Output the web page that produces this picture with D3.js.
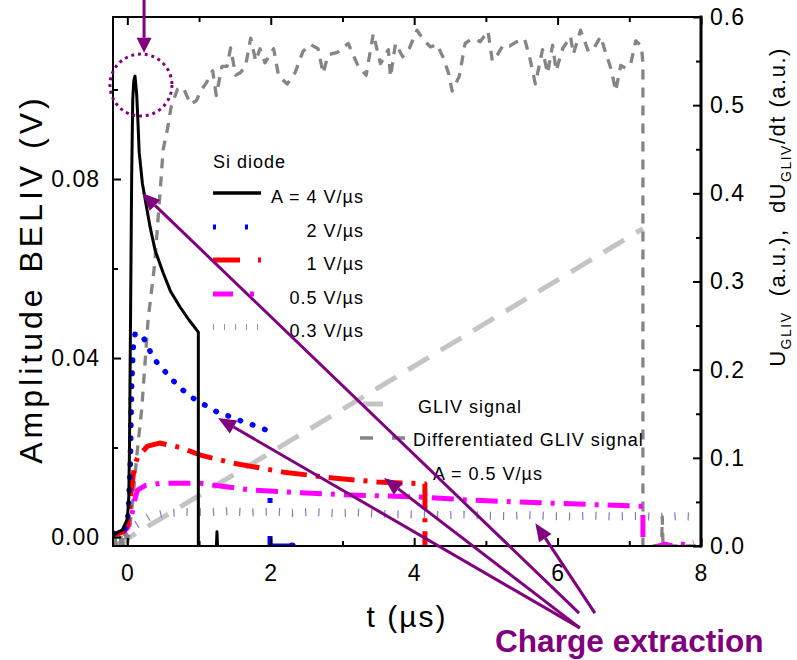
<!DOCTYPE html>
<html><head><meta charset="utf-8">
<script src="https://cdn.jsdelivr.net/npm/d3@7"></script>
<style>
html,body{margin:0;padding:0;background:#fff;}
svg{display:block;font-family:"Liberation Sans",Arial,Helvetica,sans-serif;}
</style></head><body>
<svg id="chart" width="797" height="660"></svg>
<script>
// ---------- tick values ----------
const tickT = [0, 2, 4, 6, 8];
const minorT = [1, 3, 5, 7];
const tickAmp = [0, 0.04, 0.08];
const minorAmp = [0.02, 0.06, 0.10];
const tickU = [0, 0.1, 0.2, 0.3, 0.4, 0.5, 0.6];
const minorU = [0.05, 0.15, 0.25, 0.35, 0.45, 0.55];

// ---------- BELIV transients, [t (µs), amplitude (V)] ----------
const beliv4 = [[-0.2,0.0004],[-0.07,0.0016],[0.0,0.004],[0.02,0.009],[0.03,0.02],[0.04,0.04],[0.05,0.06],
  [0.06,0.08],[0.075,0.0977],[0.09,0.102],[0.107,0.103],[0.13,0.099],[0.15,0.092],[0.165,0.086],[0.21,0.079],
  [0.275,0.0731],[0.317,0.0693],[0.387,0.0641],[0.5,0.059],[0.6,0.055],[0.735,0.0514],[0.86,0.0485],
  [0.99,0.0458],[0.99,-0.003],[1.24,-0.003],[1.25,0.0012],[1.26,-0.003],[1.5,-0.003]];
const beliv2 = [[-0.2,0.0008],[-0.05,0.0015],[0.0,0.003],[0.02,0.008],[0.04,0.0155],[0.05,0.025],[0.06,0.034],
  [0.08,0.042],[0.11,0.0456],[0.22,0.0447],[0.37,0.0398],[0.53,0.0369],[0.71,0.0337],[0.89,0.0313],[1.08,0.0295],
  [1.28,0.0277],[1.46,0.0268],[1.62,0.0257],[1.8,0.0248],[1.97,0.0237]];
const beliv2Tail = [[1.99,0.0087],[1.99,0.0002],[1.99,-0.002],[2.3,-0.002]];
const beliv1 = [[-0.2,0.0005],[-0.05,0.0012],[0.0,0.0025],[0.03,0.006],[0.05,0.0098],[0.1,0.016],[0.15,0.018],
  [0.28,0.0203],[0.45,0.021],[0.74,0.020],[1.02,0.0183],[1.48,0.0165],[2.18,0.0145],[2.87,0.0132],[3.49,0.0123],
  [3.84,0.0121],[4.15,0.0119],[4.15,-0.003],[4.5,-0.0022]];
const beliv05 = [[-0.2,0.0006],[-0.05,0.0012],[0.0,0.002],[0.05,0.004],[0.1,0.008],[0.14,0.0105],[0.25,0.0115],
  [0.46,0.012],[1.02,0.012],[1.72,0.0105],[2.41,0.0099],[3.11,0.0094],[3.99,0.0090],[4.74,0.0083],[5.66,0.0077],
  [6.6,0.0072],[7.13,0.0069],[7.19,0.0069],[7.19,-0.003],[7.5,-0.0016],[7.6,-0.002],[7.7,-0.0015],[7.8,-0.0018],[7.9,-0.0012]];
const beliv03 = [[-0.2,0.0003],[-0.05,0.0008],[0.05,0.002],[0.15,0.003],[0.3,0.0045],[0.5,0.0053],[0.8,0.0056],
  [1.1,0.0055],[1.4,0.0058],[1.7,0.0055],[2.0,0.0057],[2.3,0.0054],[2.6,0.0056],[2.9,0.0053],[3.2,0.0055],
  [3.5,0.0052],[3.8,0.0051],[4.1,0.0050],[4.4,0.0049],[4.7,0.0050],[5.0,0.0048],[5.3,0.0047],[5.6,0.0049],
  [5.9,0.0047],[6.2,0.0046],[6.5,0.0048],[6.8,0.0046],[7.1,0.0047],[7.4,0.0045],[7.7,0.0047],[8.0,0.0045]];

// ---------- GLIV signals, [t (µs), a.u.] ----------
const glivSignal = [[-0.17,0.0],[7.19,0.36]];
const glivDiff = [[-0.2,0],[-0.18,0.015],[-0.155,0],[-0.13,0.015],[-0.105,0],[-0.08,0.015],[-0.055,0],[-0.03,0.015],
  [-0.005,0],[0.02,0.012],[0.07,0.047],[0.14,0.109],[0.20,0.155],[0.24,0.200],[0.29,0.257],[0.38,0.319],
  [0.46,0.405],[0.50,0.450],[0.56,0.473],[0.61,0.498],[0.70,0.518],[0.78,0.520],[0.88,0.501],[0.96,0.505],
  [1.03,0.517],[1.10,0.525],[1.19,0.539],[1.24,0.511],[1.32,0.544],[1.39,0.544],[1.44,0.565],[1.51,0.534],
  [1.58,0.537],[1.65,0.545],[1.72,0.576],[1.79,0.550],[1.85,0.564],[1.92,0.548],[2.04,0.564],[2.11,0.533],
  [2.23,0.524],[2.34,0.537],[2.45,0.561],[2.55,0.569],[2.66,0.564],[2.73,0.536],[2.80,0.557],[2.93,0.560],
  [3.08,0.570],[3.22,0.544],[3.33,0.534],[3.43,0.581],[3.53,0.547],[3.64,0.563],[3.67,0.532],[3.74,0.570],
  [3.84,0.555],[3.93,0.564],[4.04,0.585],[4.13,0.574],[4.23,0.566],[4.32,0.569],[4.41,0.553],[4.48,0.536],
  [4.53,0.516],[4.63,0.533],[4.71,0.570],[4.78,0.574],[4.85,0.575],[4.92,0.572],[5.03,0.584],[5.09,0.550],
  [5.16,0.557],[5.24,0.568],[5.33,0.567],[5.43,0.572],[5.54,0.575],[5.62,0.551],[5.69,0.524],[5.79,0.563],
  [5.86,0.536],[5.93,0.568],[5.98,0.539],[6.07,0.564],[6.18,0.578],[6.22,0.558],[6.32,0.585],[6.43,0.561],
  [6.51,0.565],[6.60,0.578],[6.68,0.557],[6.75,0.540],[6.81,0.516],[6.88,0.545],[6.95,0.542],[7.02,0.547],
  [7.09,0.573],[7.17,0.567],[7.19,0.547],[7.19,0],[7.45,0],[7.46,0.033],[7.47,0],[8.0,0]];

// ---------- legend / annotation text ----------
const legendTitle = "Si diode";
const rateLabels = ["A = 4 V/\u00B5s", "2 V/\u00B5s", "1 V/\u00B5s", "0.5 V/\u00B5s", "0.3 V/\u00B5s"];
const glivLabels = ["GLIV signal", "Differentiated GLIV signal"];
const glivRate = "A = 0.5 V/\u00B5s";
const noteText = "Charge extraction";
// arrow tips sit on the curves, tails converge above the note text  [t, amplitude]
const arrowTips  = [[0.205,0.0769],[1.265,0.0266],[3.58,0.0132],[5.69,0.0031]];
const arrowTails = [[6.30,-0.0170],[6.31,-0.0203],[6.31,-0.0203],[6.52,-0.0170]];
const peakMark = {t:0.19, v:0.101};

// ---------- layout ----------
const L = 113, R = 701, T = 17, B = 546;
const svg = d3.select("#chart");
const x  = d3.scaleLinear().domain([-0.2, 8]).range([L, R]);
const yA = d3.scaleLinear().domain([-0.002, 0.1162]).range([B, T]);
const yU = d3.scaleLinear().domain([0, 0.6]).range([B, T]);
const PURPLE = "#800080";

svg.append("defs").append("clipPath").attr("id","plotClip")
  .append("rect").attr("x", L).attr("y", T).attr("width", R - L).attr("height", B - T);

const plot = svg.append("g").attr("clip-path", "url(#plotClip)");
const lineA = d3.line().x(d => x(d[0])).y(d => yA(d[1]));
const lineU = d3.line().x(d => x(d[0])).y(d => yU(d[1]));

const series = [
  {data: glivSignal, gen: lineU, color: "#c4c4c4", w: 5,   dash: "24,14",      cap: "butt"},
  {data: glivDiff,   gen: lineU, color: "#858585", w: 3.3, dash: "10,8",       cap: "butt"},
  {data: beliv03,    gen: lineA, color: "#7c7cc8", w: 8,   dash: "1.2,12",     cap: "butt"},
  {data: beliv05,    gen: lineA, color: "#ff00ff", w: 5,   dash: "22,9,4,9",   cap: "butt"},
  {data: beliv1,     gen: lineA, color: "#ff0000", w: 5,   dash: "26,9,4,9",   cap: "butt"},
  {data: beliv2,     gen: lineA, color: "#0000ff", w: 5.5, dash: "0.5,12.5",   cap: "round"},
  {data: beliv2Tail, gen: lineA, color: "#0000ff", w: 5,   dash: "5,33,50",    cap: "butt"},
  {data: beliv4,     gen: lineA, color: "#000000", w: 3,   dash: null,         cap: "butt"}
];
series.forEach(s => {
  plot.append("path").attr("d", s.gen(s.data)).attr("fill", "none")
    .attr("stroke", s.color).attr("stroke-width", s.w)
    .attr("stroke-dasharray", s.dash).attr("stroke-linecap", s.cap)
    .attr("stroke-linejoin", "round");
});
// thin stem of the 2 V/µs tail and its end blob
plot.append("path").attr("d", lineA(beliv2Tail.slice(1, 3))).attr("stroke", "#0000ff").attr("stroke-width", 1.5);
plot.append("circle").attr("cx", x(beliv2Tail[3][0])).attr("cy", yA(beliv2Tail[3][1])).attr("r", 3.5).attr("fill", "#0000ff");

// ---------- axes ----------
function styleAxis(g, fs) {
  g.select(".domain").remove();
  g.selectAll("line").attr("stroke", "#000").attr("stroke-width", 2);
  g.selectAll("text").attr("font-size", fs).attr("fill", "#000")
    .attr("font-family", '"Liberation Sans",Arial,sans-serif').attr("letter-spacing", "1px");
  g.attr("font-family", null).attr("font-size", null);
}
styleAxis(svg.append("g").attr("transform", `translate(0,${B})`)
  .call(d3.axisBottom(x).tickValues(tickT).tickSize(-8).tickPadding(19).tickFormat(d3.format("d"))), 23);
styleAxis(svg.append("g").attr("transform", `translate(0,${B})`)
  .call(d3.axisBottom(x).tickValues(minorT).tickSize(-5).tickFormat("")), 23);
styleAxis(svg.append("g").attr("transform", `translate(0,${T})`)
  .call(d3.axisTop(x).tickValues(tickT).tickSize(-8).tickFormat("")), 23);
styleAxis(svg.append("g").attr("transform", `translate(0,${T})`)
  .call(d3.axisTop(x).tickValues(minorT).tickSize(-5).tickFormat("")), 23);
styleAxis(svg.append("g").attr("transform", `translate(${L},0)`)
  .call(d3.axisLeft(yA).tickValues(tickAmp).tickSize(-8).tickPadding(13).tickFormat(d3.format(".2f"))), 23);
styleAxis(svg.append("g").attr("transform", `translate(${L},0)`)
  .call(d3.axisLeft(yA).tickValues(minorAmp).tickSize(-5).tickFormat("")), 23);
styleAxis(svg.append("g").attr("transform", `translate(${R},0)`)
  .call(d3.axisRight(yU).tickValues(tickU).tickSize(-8).tickPadding(9).tickFormat(d3.format(".1f"))), 23);
styleAxis(svg.append("g").attr("transform", `translate(${R},0)`)
  .call(d3.axisRight(yU).tickValues(minorU).tickSize(-5).tickFormat("")), 23);

// frame
const frame = svg.append("g").attr("stroke", "#000").attr("stroke-linecap", "square");
frame.append("line").attr("x1", L).attr("x2", R).attr("y1", T).attr("y2", T).attr("stroke-width", 2);
frame.append("line").attr("x1", L).attr("x2", R).attr("y1", B).attr("y2", B).attr("stroke-width", 2);
frame.append("line").attr("x1", L).attr("x2", L).attr("y1", T).attr("y2", B).attr("stroke-width", 2);
frame.append("line").attr("x1", R).attr("x2", R).attr("y1", T).attr("y2", B).attr("stroke-width", 3);

// axis titles
svg.append("text").attr("transform", `translate(${(L + R) / 2},627)`)
  .attr("text-anchor", "middle").attr("font-size", 30).attr("letter-spacing", "2px")
  .text("t (\u00B5s)");
svg.append("text").attr("transform", "translate(42,279) rotate(-90)")
  .attr("text-anchor", "middle").attr("font-size", 32).attr("letter-spacing", "4px")
  .text("Amplitude BELIV (V)");
const rt = svg.append("text").attr("transform", "translate(785,207) rotate(-90)")
  .attr("text-anchor", "middle").attr("font-size", 22).attr("letter-spacing", "1.5px")
  .style("white-space", "pre");
rt.append("tspan").text("U");
rt.append("tspan").attr("font-size", 14).attr("dy", 6).text("GLIV");
rt.append("tspan").attr("dy", -6).text("  (a.u.),  dU");
rt.append("tspan").attr("font-size", 14).attr("dy", 6).text("GLIV");
rt.append("tspan").attr("dy", -6).text("/dt (a.u.)");

// ---------- legend: Si diode rates ----------
const lg = svg.append("g").attr("font-size", 18).attr("letter-spacing", "1px");
lg.append("text").attr("x", 213).attr("y", 168).text(legendTitle);
const legendRows = [193, 227, 260, 294, 327];
const legendSamples = [
  {color: "#000000", w: 3.5, dash: null},
  {color: "#0000ff", w: 5,   dash: "3,29"},
  {color: "#ff0000", w: 5,   dash: "27,18,3,20"},
  {color: "#ff00ff", w: 5,   dash: "20,17,4,20"},
  {color: "#8f8fd6", w: 6,   dash: "1,10"}
];
rateLabels.forEach((lab, i) => {
  const s = legendSamples[i];
  lg.append("line").attr("x1", 213).attr("x2", 261).attr("y1", legendRows[i]).attr("y2", legendRows[i])
    .attr("stroke", s.color).attr("stroke-width", s.w).attr("stroke-dasharray", s.dash);
  lg.append("text").attr("x", 364).attr("y", legendRows[i] + 10).attr("text-anchor", "end").text(lab);
});

// ---------- legend: GLIV ----------
const lg2 = svg.append("g").attr("font-size", 18).attr("letter-spacing", "1px");
lg2.append("line").attr("x1", 363).attr("x2", 383).attr("y1", 404).attr("y2", 404)
  .attr("stroke", "#c4c4c4").attr("stroke-width", 5);
lg2.append("text").attr("x", 418).attr("y", 413).text(glivLabels[0]);
lg2.append("line").attr("x1", 360).attr("x2", 406).attr("y1", 438).attr("y2", 438)
  .attr("stroke", "#858585").attr("stroke-width", 3.3).attr("stroke-dasharray", "13,19");
lg2.append("text").attr("x", 413).attr("y", 446).text(glivLabels[1]);
lg2.append("text").attr("x", 433).attr("y", 480).text(glivRate);

// ---------- annotations ----------
const ann = svg.append("g");
function arrow(x1, y1, x2, y2, len, half) {
  const dx = x2 - x1, dy = y2 - y1, d = Math.hypot(dx, dy);
  const ux = dx / d, uy = dy / d;
  const bx = x2 - ux * len, by = y2 - uy * len;
  ann.append("line").attr("x1", x1).attr("y1", y1).attr("x2", bx).attr("y2", by)
    .attr("stroke", PURPLE).attr("stroke-width", 3);
  ann.append("polygon").attr("fill", PURPLE)
    .attr("points", [[x2, y2], [bx - uy * half, by + ux * half], [bx + uy * half, by - ux * half]].join(" "));
}
arrowTips.forEach((tip, i) => {
  const tail = arrowTails[i];
  arrow(x(tail[0]), yA(tail[1]), x(tip[0]), yA(tip[1]), 18, 7.5);
});
// peak marker: dotted ring plus arrow from above
ann.append("circle").attr("cx", x(peakMark.t)).attr("cy", yA(peakMark.v)).attr("r", 31)
  .attr("fill", "none").attr("stroke", PURPLE).attr("stroke-width", 3).attr("stroke-dasharray", "3,3.8");
arrow(x(0.233), 0, x(0.233), yA(0.1082), 15, 7.5);

svg.append("text").attr("x", 495).attr("y", 652).attr("font-size", 31.6).attr("font-weight", "bold")
  .attr("fill", PURPLE).text(noteText);
</script>
</body></html>
